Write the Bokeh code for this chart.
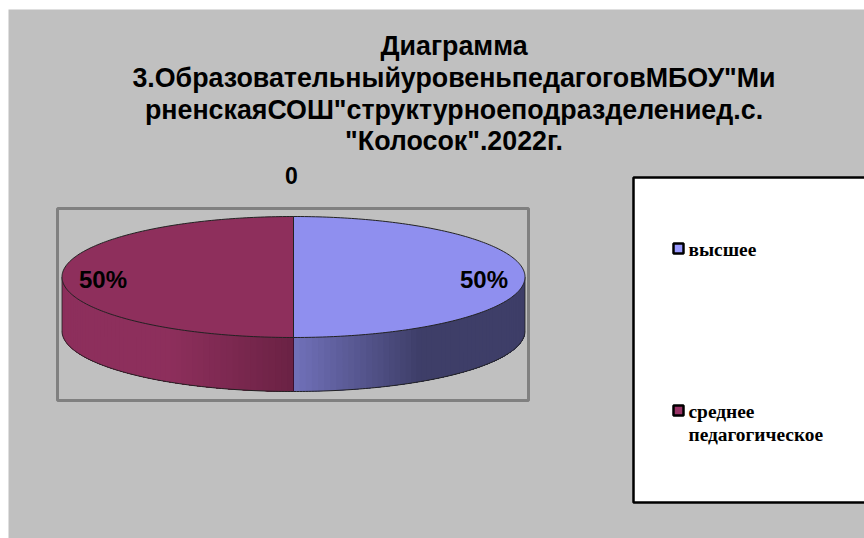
import numpy as np
from bokeh.embed import file_html
from bokeh.models import Range1d
from bokeh.plotting import figure
from bokeh.resources import INLINE
from bokeh.core.properties import value

title_lines = ["Диаграмма", "3.ОбразовательныйуровеньпедагоговМБОУ\"Ми",
               "рненскаяСОШ\"структурноеподразделениед.с.", "\"Колосок\".2022г."]
series_name = ["0"]
categories = ["высшее", "среднее педагогическое"]
shares = [50, 50]
top_colors = ["#8f8fef", "#8e2f5c"]
legend_colors = ["#9999ff", "#993366"]

p = figure(width=856, height=529, output_backend="svg", toolbar_location=None,
           x_range=Range1d(8, 864), y_range=Range1d(538, 9), min_border=0, margin=(9, 0, 0, 8),
           background_fill_color="#c0c0c0", border_fill_color="#c0c0c0", outline_line_color=None)
p.axis.visible = False
p.grid.visible = False

TF = value("Liberation Sans")
SF = value("Liberation Serif")

# title
p.text([453.5] * 4, [45, 77, 109, 140], text=title_lines, text_font=TF, text_font_style="bold",
       text_font_size="26.8px", text_align="center", text_baseline="middle", text_color="black")
p.text([291], [175], text=series_name, text_font=TF, text_font_style="bold", text_font_size="23px",
       text_align="center", text_baseline="middle", text_color="black")

# plot-area frame
p.quad(left=[57], right=[528], top=[208], bottom=[400], fill_color=None, line_color="#808080", line_width=3)

# 3-D pie geometry
cx, cy, rx, ry, depth = 293.0, 276.5, 231.5, 60.5, 54.0
fractions = np.array(shares, dtype=float) / sum(shares)
edges = -np.pi / 2 + 2 * np.pi * np.concatenate([[0], np.cumsum(fractions)])


def side_color(i, x):
    """Shading of the pie's rim: lit towards the left, dark towards the right."""
    if i == 0:
        s = np.clip((x - 293) / 125, 0, 1)
        c0, c1 = np.array([112, 112, 184]), np.array([62, 62, 104])
    else:
        s = np.clip((x - 170) / 123, 0, 1)
        c0, c1 = np.array([141, 47, 92]), np.array([106, 34, 68])
    r, g, b = (c0 + (c1 - c0) * s).astype(int)
    return f"#{r:02x}{g:02x}{b:02x}"


# rim: painted left to right, each strip running to the end of its arc so no seams show
for i in sorted(range(len(shares)), reverse=True):
    a0, a1 = max(edges[i], 0.0), min(edges[i + 1], np.pi)
    if a1 <= a0:
        continue
    ts = np.linspace(a1, a0, 60)
    for t0 in ts[:-1]:
        t = np.linspace(t0, a0, 80)
        xs, ys = cx + rx * np.cos(t), cy + ry * np.sin(t)
        col = side_color(i, cx + rx * np.cos(t0))
        p.patch(np.concatenate([xs, xs[::-1]]), np.concatenate([ys, ys[::-1] + depth]),
                fill_color=col, line_color=None)
    tt = np.linspace(a0, a1, 120)
    p.line(cx + rx * np.cos(tt), cy + ry * np.sin(tt) + depth, line_color="#222222", line_width=1)

# vertical edges of the rim
p.segment([cx], [cy + ry], [cx], [cy + ry + depth], line_color="#3a1030", line_width=1)
p.segment([cx - rx, cx + rx], [cy, cy], [cx - rx, cx + rx], [cy + depth, cy + depth],
          line_color="#222222", line_width=0.8)

# top slices
for i in range(len(shares)):
    t = np.linspace(edges[i], edges[i + 1], 200)
    xs = np.concatenate([[cx], cx + rx * np.cos(t)])
    ys = np.concatenate([[cy], cy + ry * np.sin(t)])
    p.patch(xs, ys, fill_color=top_colors[i], line_color="#222222", line_width=1)

# data labels
labels = [f"{s}%" for s in shares]
p.text([483.5, 102.5], [279, 279], text=labels, text_font=TF, text_font_style="bold", text_font_size="24px",
       text_align="center", text_baseline="middle", text_color="black")

# legend
p.quad(left=[633], right=[880], top=[177], bottom=[502], fill_color="white", line_color="black", line_width=2.5)
p.quad(left=[673, 673], right=[683, 683], top=[243, 405], bottom=[253, 415], fill_color=legend_colors,
       line_color="black", line_width=2.5)
p.text([688], [248.5], text=[categories[0]], text_font=SF, text_font_style="bold", text_font_size="19.4px",
       text_baseline="middle", text_color="black")
p.text([688, 688], [411, 434], text=categories[1].split(" "), text_font=SF, text_font_style="bold",
       text_font_size="19.4px", text_baseline="middle", text_color="black")

open("out.html", "w").write(file_html(p, INLINE))
